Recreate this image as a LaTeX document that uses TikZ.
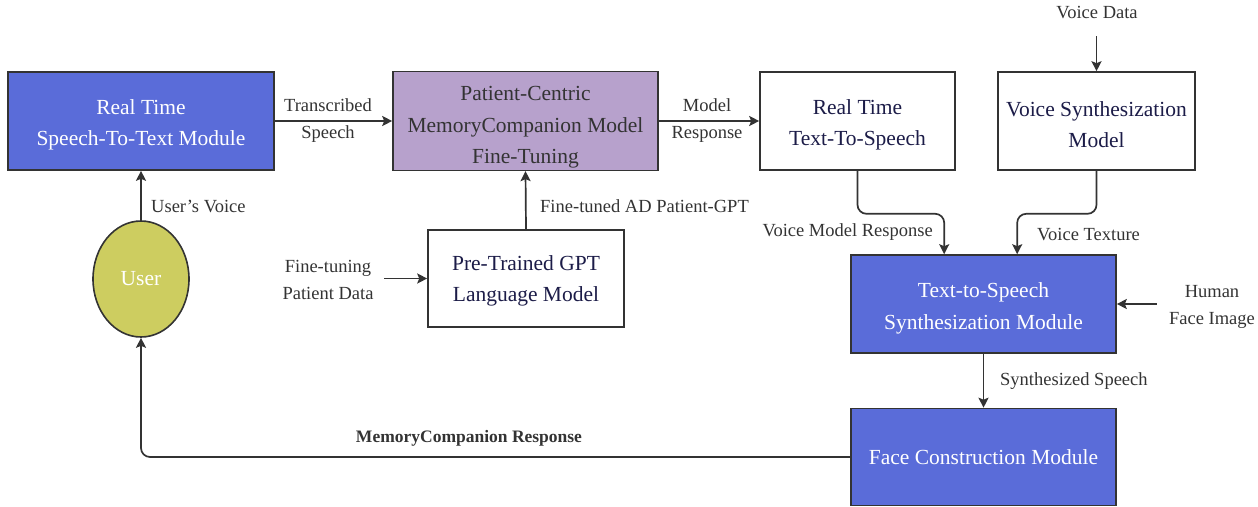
\documentclass[tikz,border=0pt]{standalone}
\usepackage{fontspec}
\setmainfont{Liberation Serif}
\usetikzlibrary{arrows.meta,shapes.geometric}
\definecolor{bluefill}{RGB}{90,108,217}
\definecolor{purplefill}{RGB}{183,161,204}
\definecolor{userfill}{RGB}{205,205,96}
\definecolor{edgecol}{RGB}{51,51,51}
\definecolor{navytext}{RGB}{28,28,72}
\newcommand{\myup}[1]{\rule{0pt}{#1}}
\tikzset{
  box/.style={draw=edgecol, line width=1.6pt, rectangle, align=center, inner sep=2pt,
    font=\fontsize{21.5}{31.5}\selectfont},
  bluebox/.style={box, fill=bluefill, text=white},
  purplebox/.style={box, fill=purplefill, text=edgecol},
  whitebox/.style={box, fill=white, text=navytext},
  elabel/.style={align=center, text=edgecol, font=\fontsize{18.5}{27}\selectfont, inner sep=0pt},
  arr/.style={draw=edgecol, line width=1.7pt, -{Stealth[length=10pt,width=10pt,inset=2pt]}},
}
\begin{document}
\begin{tikzpicture}[x=1pt,y=-1pt]
\useasboundingbox (0,0) rectangle (1258,506);
% nodes
\node[bluebox, minimum width=266pt, minimum height=98pt] (stt) at (141,121) {\myup{23pt}Real Time\\Speech-To-Text Module};
\node[purplebox, minimum width=265pt, minimum height=98pt] (pcm) at (525.5,121) {\myup{27pt}Patient-Centric\\MemoryCompanion Model\\Fine-Tuning};
\node[whitebox, minimum width=195pt, minimum height=98pt] (rttts) at (857.5,121) {\myup{23pt}Real Time\\Text-To-Speech};
\node[whitebox, minimum width=197pt, minimum height=98pt] (vsm) at (1096.5,121) {\myup{22pt}Voice Synthesization\\Model};
\node[draw=edgecol, line width=1.6pt, fill=userfill, ellipse, minimum width=96pt, minimum height=116pt, inner sep=0pt, text=white, font=\fontsize{21.5}{31}\selectfont] (user) at (141,279) {User};
\node[whitebox, minimum width=196pt, minimum height=97pt] (gpt) at (526,278.5) {\myup{20pt}Pre-Trained GPT\\Language Model};
\node[bluebox, minimum width=265pt, minimum height=98pt] (ttss) at (983.5,304) {\myup{24pt}Text-to-Speech\\Synthesization Module};
\node[bluebox, minimum width=265pt, minimum height=97pt] (fc) at (983.5,457) {Face Construction Module};
% free labels
\node[elabel] (vd) at (1097,13) {Voice Data};
\node[elabel] (ftpd) at (328,280) {Fine-tuning\\Patient Data};
\node[elabel] (hfi) at (1212,307) {Human\\Face Image};
% edge labels
\node[elabel] (l1) at (328,121) {Transcribed\\Speech};
\node[elabel] (l2) at (707,121) {Model\\Response};
\node[elabel, anchor=west] (l3) at (151,206) {User's Voice};
\node[elabel, anchor=west] (l4) at (540,206) {Fine-tuned AD Patient-GPT};
\node[elabel, anchor=east] (l5) at (933,232) {Voice Model Response};
\node[elabel, anchor=west] (l6) at (1037,235) {Voice Texture};
\node[elabel, anchor=west] (l7) at (1000,381) {Synthesized Speech};
\node[elabel, font=\fontsize{17.5}{27}\selectfont\bfseries] (l8) at (469,438) {MemoryCompanion Response};
% connectors
\draw[arr] (stt.east) -- (pcm.west);
\draw[arr] (pcm.east) -- (rttts.west);
\draw[arr] (user.north) -- (stt.south);
\draw[arr] (gpt.north) -- (pcm.south);
\draw[arr] (gpt.west) ++(-43,0) -- (gpt.west);
\draw[arr] (vsm.north) ++(0,-35) -- (vsm.north);
\draw[arr, rounded corners=9pt] (rttts.south) -- ++(0,43) -| ([xshift=94pt]ttss.north west);
\draw[arr, rounded corners=9pt] (vsm.south) -- ++(0,43) -| ([xshift=167pt]ttss.north west);
\draw[arr] (ttss.east) ++(40,0) -- (ttss.east);
\draw[arr] (ttss.south) -- (fc.north);
\draw[arr, rounded corners=9pt] (fc.west) -| (user.south);
\end{tikzpicture}
\end{document}
